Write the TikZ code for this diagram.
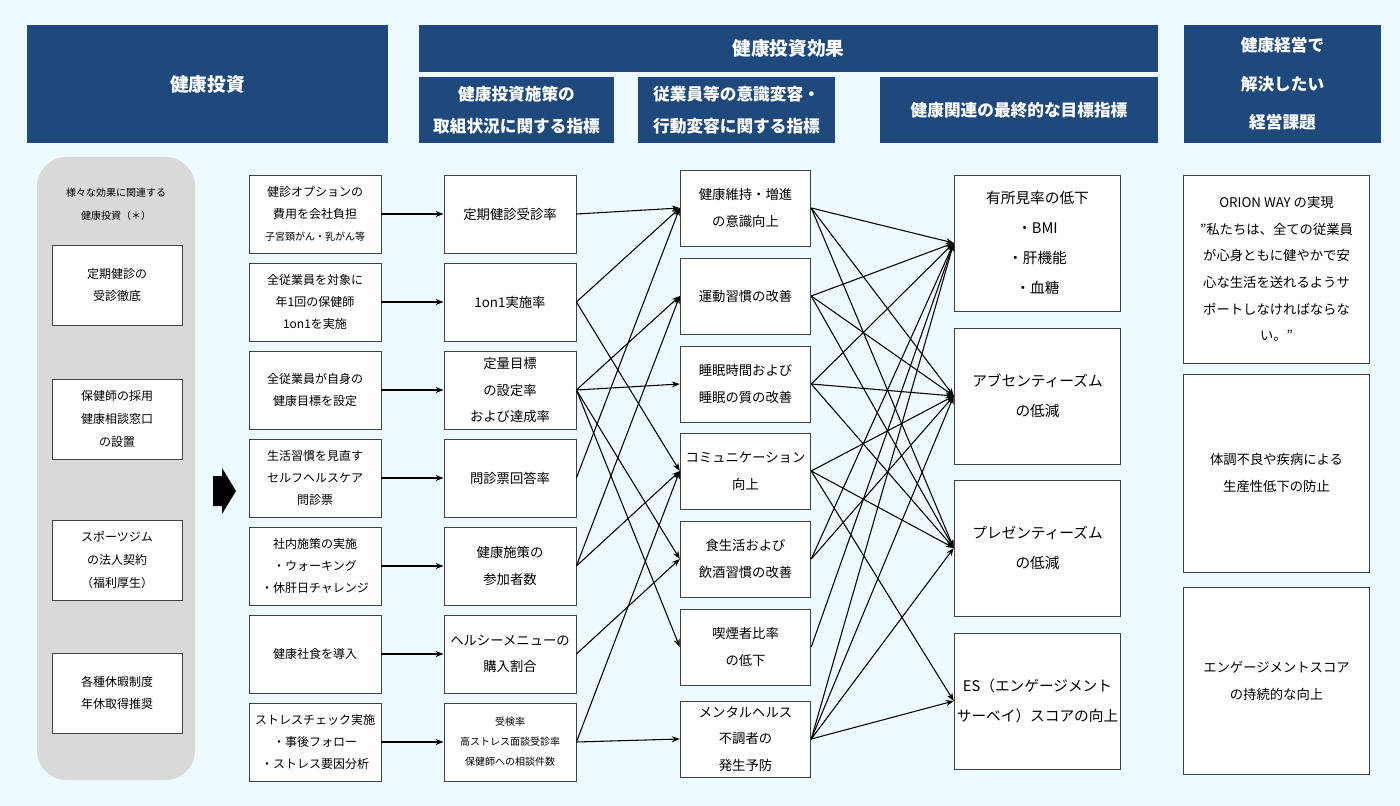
\documentclass[tikz,border=0pt]{standalone}
\usepackage{fontspec}
\setmainfont{Noto Sans CJK JP}
\usetikzlibrary{arrows.meta}
\definecolor{hdblue}{RGB}{31,73,125}
\definecolor{bgcyan}{RGB}{238,251,254}
\definecolor{panelgray}{RGB}{217,217,217}
\tikzset{
  hd/.style={fill=hdblue,text=white,inner sep=0pt,align=center,font=\bfseries\fontsize{12.5}{24}\selectfont},
  box/.style={draw=black!75,fill=white,line width=0.6pt,inner sep=1pt,align=center,font=\fontsize{9.5}{17}\selectfont},
  abox/.style={box,minimum width=99pt,minimum height=58.5pt,font=\fontsize{9}{16.5}\selectfont},
  cbox/.style={box,minimum width=98pt,minimum height=57pt,font=\fontsize{10}{20}\selectfont},
  dbox/.style={box,minimum width=125pt,minimum height=102pt,font=\fontsize{11}{22.5}\selectfont},
  ebox/.style={box,minimum width=139pt,font=\fontsize{10}{20}\selectfont},
  gbox/.style={box,minimum width=97.5pt,minimum height=60pt,font=\fontsize{9}{17}\selectfont},
  link/.style={line width=0.8pt,-{Stealth[length=6pt,width=4.5pt]}},
}
\begin{document}
\begin{tikzpicture}[x=0.75pt,y=0.75pt,yscale=-1,xscale=1]
\fill[bgcyan] (0,0) rectangle (1400,806);
\useasboundingbox (0,0) rectangle (1400,806);

% headers
\node[hd,minimum width=270.75pt,minimum height=88.5pt,font=\bfseries\fontsize{14}{20}\selectfont] (hInv) at (207.5,84) {健康投資};
\node[hd,minimum width=554.25pt,minimum height=35.25pt,font=\bfseries\fontsize{14}{20}\selectfont] (hEff) at (788.5,48.5) {健康投資効果};
\node[hd,minimum width=146.25pt,minimum height=49.5pt] (hSub1) at (516.5,110) {健康投資施策の\\取組状況に関する指標};
\node[hd,minimum width=147.75pt,minimum height=49.5pt] (hSub2) at (736.5,110) {従業員等の意識変容・\\行動変容に関する指標};
\node[hd,minimum width=208.5pt,minimum height=49.5pt] (hSub3) at (1019,110) {健康関連の最終的な目標指標};
\node[hd,minimum width=147.75pt,minimum height=88.5pt,font=\bfseries\fontsize{12.5}{29}\selectfont] (hIssue) at (1282.5,84) {健康経営で\\解決したい\\経営課題};

% left panel
\fill[panelgray,rounded corners=22pt] (37,157) rectangle (195,780);
\node[align=center,font=\fontsize{7.5}{17}\selectfont] (gTitle) at (116,204) {様々な効果に関連する\\健康投資（＊）};
\node[gbox] (g1) at (117,285) {定期健診の\\受診徹底};
\node[gbox] (g2) at (117,419) {保健師の採用\\健康相談窓口\\の設置};
\node[gbox] (g3) at (117,560) {スポーツジム\\の法人契約\\（福利厚生）};
\node[gbox] (g4) at (117,693) {各種休暇制度\\年休取得推奨};
\fill[black] (213,476) -- (222,476) -- (222,468) -- (236,491) -- (222,514) -- (222,506) -- (213,506) -- cycle;

% measures
\node[abox] (a1) at (315,214) {健診オプションの\\費用を会社負担\\{\fontsize{7.5}{12}\selectfont 子宮頸がん・乳がん等}};
\node[abox] (a2) at (315,302) {全従業員を対象に\\年1回の保健師\\1on1を実施};
\node[abox] (a3) at (315,390) {全従業員が自身の\\健康目標を設定};
\node[abox] (a4) at (315,478) {生活習慣を見直す\\セルフヘルスケア\\問診票};
\node[abox] (a5) at (315,566) {社内施策の実施\\・ウォーキング\\・休肝日チャレンジ};
\node[abox] (a6) at (315,654) {健康社食を導入};
\node[abox] (a7) at (315,742) {ストレスチェック実施\\・事後フォロー\\・ストレス要因分析};

% indicators
\node[abox,font=\fontsize{10}{20}\selectfont] (m1) at (510,214) {定期健診受診率};
\node[abox,font=\fontsize{10}{20}\selectfont] (m2) at (510,302) {1on1実施率};
\node[abox,font=\fontsize{10}{20}\selectfont] (m3) at (510,390) {定量目標\\の設定率\\および達成率};
\node[abox,font=\fontsize{10}{20}\selectfont] (m4) at (510,478) {問診票回答率};
\node[abox,font=\fontsize{10}{20}\selectfont] (m5) at (510,566) {健康施策の\\参加者数};
\node[abox,font=\fontsize{10}{20}\selectfont] (m6) at (510,654) {ヘルシーメニューの\\購入割合};
\node[abox,font=\fontsize{7.5}{15}\selectfont] (m7) at (510,742) {受検率\\高ストレス面談受診率\\保健師への相談件数};

% behaviour change
\node[cbox] (c1) at (745.5,208) {健康維持・増進\\の意識向上};
\node[cbox] (c2) at (745.5,296) {運動習慣の改善};
\node[cbox] (c3) at (745.5,384) {睡眠時間および\\睡眠の質の改善};
\node[cbox] (c4) at (745.5,471) {コミュニケーション\\向上};
\node[cbox] (c5) at (745.5,559) {食生活および\\飲酒習慣の改善};
\node[cbox] (c6) at (745.5,647) {喫煙者比率\\の低下};
\node[cbox] (c7) at (745.5,739) {メンタルヘルス\\不調者の\\発生予防};

% final targets
\node[dbox] (d1) at (1037.5,243) {有所見率の低下\\・BMI\\・肝機能\\・血糖};
\node[dbox] (d2) at (1037.5,396) {アブセンティーズム\\の低減};
\node[dbox] (d3) at (1037.5,548) {プレゼンティーズム\\の低減};
\node[dbox] (d4) at (1037.5,701) {ES（エンゲージメント\\サーベイ）スコアの向上};

% issues
\node[ebox,minimum height=141pt] (e1) at (1276.5,269) {ORION WAY の実現\\”私たちは、全ての従業員\\が心身ともに健やかで安\\心な生活を送れるようサ\\ポートしなければならな\\い。”};
\node[ebox,minimum height=148.5pt] (e2) at (1276.5,473) {体調不良や疾病による\\生産性低下の防止};
\node[ebox,minimum height=140pt] (e3) at (1276.5,681) {エンゲージメントスコア\\の持続的な向上};

% connectors
\foreach \i in {1,...,7} \draw[link] (a\i) -- (m\i);
\foreach \s/\t in {m1/c1,m2/c1,m2/c4,m3/c2,m3/c3,m3/c5,m3/c6,m4/c1,m5/c2,m5/c4,m6/c5,m7/c4,m7/c7}
  \draw[link] (\s.east) -- (\t.west);
\foreach \s/\t in {c1/d1,c1/d2,c1/d3,c2/d1,c2/d2,c2/d3,c3/d1,c3/d2,c3/d3,c4/d2,c4/d3,c4/d4,c5/d1,c5/d2,c6/d1,c7/d1,c7/d2,c7/d3,c7/d4}
  \draw[link] (\s.east) -- (\t.west);
\end{tikzpicture}
\end{document}
